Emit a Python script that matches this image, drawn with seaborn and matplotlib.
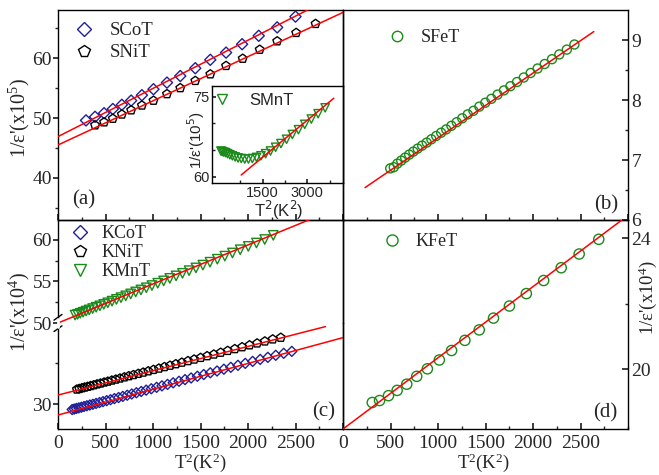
import matplotlib
matplotlib.use("Agg")
import matplotlib.pyplot as plt
import seaborn as sns
from matplotlib.ticker import MultipleLocator, FixedLocator
from matplotlib.lines import Line2D

# ---------------- data ----------------
# panel (a)
scot_x = [295, 390, 485, 577, 672, 770, 883, 1005, 1147, 1287, 1445, 1603, 1769, 1938, 2113, 2307, 2500]
scot_y = [49.6, 50.2, 50.8, 51.5, 52.2, 52.9, 53.8, 54.8, 55.9, 57.0, 58.3, 59.7, 60.9, 62.3, 63.7, 65.1, 66.9]
snit_x = [390, 485, 577, 672, 770, 883, 1005, 1147, 1287, 1445, 1603, 1769, 1944, 2123, 2307, 2507, 2711]
snit_y = [48.8, 49.3, 49.9, 50.6, 51.3, 52.1, 52.9, 54.0, 55.0, 56.2, 57.3, 58.7, 59.9, 61.4, 62.8, 64.2, 65.7]
scot_fit_x = [0, 3000]
scot_fit_y = [46.9, 71.0]
snit_fit_x = [0, 3000]
snit_fit_y = [45.5, 67.6]

# inset of (a)
smnt_x = [100, 144, 196, 256, 324, 400, 484, 576, 676, 784, 900, 1024, 1156, 1296, 1444,
          1600, 1764, 1936, 2116, 2304, 2500, 2704, 2916, 3136, 3364, 3600]
smnt_y = [64.8, 64.7, 64.6, 64.5, 64.3, 64.1, 63.9, 63.7, 63.5, 63.4, 63.3, 63.3, 63.4, 63.6, 63.9,
          64.3, 64.8, 65.5, 66.2, 67.0, 67.9, 68.8, 69.8, 70.8, 71.8, 72.9]
smnt_fit_x = [780, 3890]
smnt_fit_y = [60.3, 74.7]

# panel (b)
sfet_x = [497, 534, 572, 613, 654, 697, 741, 786, 833, 881, 930, 981, 1033, 1086, 1141, 1197, 1255,
          1313, 1373, 1435, 1498, 1562, 1627, 1694, 1762, 1832, 1903, 1975, 2048, 2123, 2200, 2277,
          2356, 2436]
sfet_y = [6.86, 6.88, 6.94, 6.99, 7.04, 7.09, 7.14, 7.19, 7.24, 7.29, 7.345, 7.40, 7.455, 7.51, 7.57,
          7.63, 7.695, 7.76, 7.82, 7.89, 7.955, 8.02, 8.09, 8.16, 8.23, 8.30, 8.375, 8.45, 8.525, 8.60,
          8.68, 8.76, 8.84, 8.925]
sfet_fit_x = [232, 2640]
sfet_fit_y = [6.54, 9.14]

# panel (c)
kmnt_x = [180, 206, 234, 264, 296, 329, 365, 402, 441, 482, 524, 569, 615, 663, 713, 765, 818, 873,
          930, 989, 1050, 1112, 1177, 1243, 1310, 1380, 1452, 1525, 1600, 1677, 1756, 1836, 1918,
          2003, 2089, 2176, 2266]
kmnt_y = [50.95, 51.05, 51.17, 51.30, 51.44, 51.58, 51.74, 51.90, 52.07, 52.25, 52.43, 52.63, 52.84,
          53.05, 53.27, 53.50, 53.74, 53.98, 54.24, 54.51, 54.79, 55.07, 55.37, 55.67, 55.98, 56.30,
          56.63, 56.97, 57.32, 57.68, 58.05, 58.43, 58.82, 59.22, 59.63, 60.05, 60.55]
knit_x = [199, 224, 252, 280, 311, 342, 376, 411, 447, 485, 524, 566, 608, 652, 698, 745, 794, 845,
          896, 950, 1005, 1062, 1120, 1179, 1240, 1303, 1368, 1433, 1501, 1570, 1640, 1712, 1786,
          1861, 1938, 2016, 2096, 2177, 2260, 2345]
knit_y = [31.82, 31.89, 31.98, 32.06, 32.15, 32.24, 32.34, 32.45, 32.55, 32.67, 32.78, 32.91, 33.03,
          33.16, 33.30, 33.44, 33.58, 33.73, 33.88, 34.04, 34.21, 34.37, 34.55, 34.72, 34.90, 35.09,
          35.28, 35.47, 35.67, 35.88, 36.08, 36.30, 36.52, 36.74, 36.97, 37.20, 37.43, 37.67, 37.92,
          38.12]
kcot_x = [149, 171, 194, 219, 246, 274, 304, 335, 367, 401, 437, 474, 513, 553, 594, 638, 682, 729,
          776, 825, 876, 928, 982, 1038, 1094, 1153, 1212, 1274, 1337, 1401, 1467, 1534, 1603, 1674,
          1746, 1819, 1894, 1971, 2049, 2128, 2209, 2292, 2376, 2461]
kcot_y = [29.37, 29.43, 29.50, 29.57, 29.65, 29.74, 29.83, 29.92, 30.01, 30.11, 30.22, 30.33, 30.45,
          30.57, 30.70, 30.83, 30.97, 31.11, 31.26, 31.41, 31.57, 31.73, 31.90, 32.07, 32.25, 32.43,
          32.62, 32.81, 33.01, 33.21, 33.42, 33.63, 33.84, 34.06, 34.28, 34.51, 34.75, 34.99, 35.23,
          35.47, 35.72, 35.97, 36.21, 36.45]
kmnt_fit_x = [0, 3000]
kmnt_fit_y = [50.0, 64.1]
knit_fit_x = [0, 2815]
knit_fit_y = [31.13, 39.46]
kcot_fit_x = [0, 3000]
kcot_fit_y = [28.7, 38.12]

# panel (d)
kfet_x = [308, 385, 479, 570, 671, 776, 888, 1014, 1143, 1283, 1434, 1584, 1752, 1930, 2112, 2297, 2486, 2692]
kfet_y = [18.98, 19.04, 19.19, 19.35, 19.54, 19.78, 20.01, 20.28, 20.57, 20.88, 21.20, 21.56, 21.93,
          22.31, 22.71, 23.10, 23.52, 23.97]
kfet_fit_x = [0, 3000]
kfet_fit_y = [18.17, 24.70]

x_ticks = [0, 500, 1000, 1500, 2000, 2500]

# ---------------- style ----------------
sns.set_theme(style="ticks")
plt.rcParams["font.family"] = ["Liberation Serif", "DejaVu Serif"]
plt.rcParams["mathtext.fontset"] = "custom"
plt.rcParams["mathtext.rm"] = "Liberation Serif"
plt.rcParams["mathtext.it"] = "Liberation Serif:italic"
plt.rcParams["mathtext.sf"] = "Liberation Sans"

BLUE = "#1f1f99"
BLACK = "#000000"
GREEN = "#1a8a1a"
RED = "#ff0000"
SANS = ["Liberation Sans", "DejaVu Sans"]

W, H = 659, 475
fig = plt.figure(figsize=(W / 100, H / 100), dpi=100)


def add_ax(x0, y0, x1, y1):
    return fig.add_axes([x0 / W, 1 - y1 / H, (x1 - x0) / W, (y1 - y0) / H])


def style(ax):
    ax.set_facecolor("none")
    ax.grid(False)
    for s in ax.spines.values():
        s.set_visible(True)
        s.set_color("black")
        s.set_linewidth(1.0)


def pts(ax, x, y, marker, color, s):
    sns.scatterplot(x=x, y=y, ax=ax, marker=marker, s=s, color=color,
                    facecolor="none", edgecolor=color, linewidth=1.0,
                    legend=False, zorder=3)


def fit(ax, x, y):
    sns.lineplot(x=x, y=y, ax=ax, color=RED, linewidth=1.1, zorder=4, legend=False)


def handle(marker, color, ms):
    return Line2D([], [], ls="none", marker=marker, ms=ms, mfc="none", mec=color, mew=1.0)


TS = 14  # tick label size

# ---------------- panel (a) ----------------
axA = add_ax(58, 10, 343, 220)
style(axA)
pts(axA, scot_x, scot_y, "D", BLUE, 32)
pts(axA, snit_x, snit_y, "p", BLACK, 42)
fit(axA, scot_fit_x, scot_fit_y)
fit(axA, snit_fit_x, snit_fit_y)
axA.set_xlim(0, 3000)
axA.set_ylim(33, 68)
axA.xaxis.set_major_locator(MultipleLocator(500))
axA.xaxis.set_minor_locator(MultipleLocator(250))
axA.yaxis.set_major_locator(FixedLocator([40, 50, 60]))
axA.yaxis.set_minor_locator(FixedLocator([35, 45, 55, 65]))
axA.tick_params(axis="x", which="both", bottom=True, direction="in", labelbottom=False)
axA.tick_params(axis="x", which="major", length=4)
axA.tick_params(axis="x", which="minor", length=2.5)
axA.tick_params(axis="y", which="both", left=True, direction="out", labelsize=TS, pad=1)
axA.tick_params(axis="y", which="major", length=3.5)
axA.tick_params(axis="y", which="minor", length=2.5)
axA.set_xlabel("")
axA.set_ylabel("")
axA.legend(handles=[handle("D", BLUE, 7.5), handle("p", BLACK, 8.5)], labels=["SCoT", "SNiT"],
           loc="upper left", bbox_to_anchor=(0.04, 0.96), frameon=False, fontsize=13.5,
           handlelength=1.2, handletextpad=0.75, labelspacing=0.25, borderpad=0.2, borderaxespad=0)
axA.text(0.05, 0.095, "(a)", transform=axA.transAxes, fontsize=15, ha="left", va="center")

# inset
axI = add_ax(212, 86, 343, 183)
style(axI)
axI.set_facecolor("white")
pts(axI, smnt_x, smnt_y, "v", GREEN, 36)
fit(axI, smnt_fit_x, smnt_fit_y)
axI.set_xlim(-200, 4200)
axI.set_ylim(58.8, 77)
axI.xaxis.set_major_locator(FixedLocator([1500, 3000]))
axI.xaxis.set_minor_locator(FixedLocator([750, 2250, 3750]))
axI.yaxis.set_major_locator(FixedLocator([60, 75]))
axI.yaxis.set_minor_locator(FixedLocator([65, 70]))
axI.tick_params(axis="both", which="both", direction="in", bottom=True, left=True, labelsize=10.5, pad=2)
axI.tick_params(axis="both", which="major", length=3)
axI.tick_params(axis="both", which="minor", length=2)
for lab in axI.get_xticklabels() + axI.get_yticklabels():
    lab.set_family(SANS)
axI.set_xlabel("")
axI.set_ylabel("")
axI.legend(handles=[handle("v", GREEN, 7)], labels=["SMnT"], loc="upper left",
           bbox_to_anchor=(0.015, 0.93), frameon=False, prop={"family": SANS, "size": 12},
           handlelength=1.0, handletextpad=1.1, borderpad=0, borderaxespad=0)
fig.text(196 / W, 1 - 140 / H, "1/ε'(10$^5$)", rotation=90, ha="center", va="center",
         fontsize=11, family=SANS, math_fontfamily="dejavusans")
fig.text(279 / W, 1 - 210 / H, "T$^2$(K$^2$)", ha="center", va="center", fontsize=12, family=SANS,
         math_fontfamily="dejavusans")

# ---------------- panel (b) ----------------
axB = add_ax(343, 10, 628, 220)
style(axB)
pts(axB, sfet_x, sfet_y, "o", GREEN, 42)
fit(axB, sfet_fit_x, sfet_fit_y)
axB.set_xlim(0, 3000)
axB.set_ylim(6, 9.5)
axB.xaxis.set_major_locator(MultipleLocator(500))
axB.xaxis.set_minor_locator(MultipleLocator(250))
axB.yaxis.tick_right()
axB.yaxis.set_major_locator(FixedLocator([6, 7, 8, 9]))
axB.yaxis.set_minor_locator(FixedLocator([6.5, 7.5, 8.5]))
axB.tick_params(axis="x", which="both", bottom=True, direction="in", labelbottom=False)
axB.tick_params(axis="x", which="major", length=4)
axB.tick_params(axis="x", which="minor", length=2.5)
axB.tick_params(axis="y", which="both", right=True, left=False, direction="in", labelsize=TS, pad=2.5)
axB.tick_params(axis="y", which="major", length=4)
axB.tick_params(axis="y", which="minor", length=2.5)
axB.set_xlabel("")
axB.set_ylabel("")
axB.legend(handles=[handle("o", GREEN, 7.5)], labels=["SFeT"], loc="upper left",
           bbox_to_anchor=(0.145, 0.925), frameon=False, fontsize=13,
           handlelength=1.0, handletextpad=0.8, borderpad=0.2, borderaxespad=0)
axB.text(0.965, 0.071, "(b)", transform=axB.transAxes, fontsize=15, ha="right", va="center")

# ---------------- panel (c) (broken axis) ----------------
axCt = add_ax(58, 220, 343, 323)
axCb = add_ax(58, 323, 343, 429)
for ax in (axCt, axCb):
    style(ax)
axCt.spines["bottom"].set_visible(False)
axCb.spines["top"].set_visible(False)

pts(axCt, kmnt_x, kmnt_y, "v", GREEN, 46)
fit(axCt, kmnt_fit_x, kmnt_fit_y)
pts(axCb, knit_x, knit_y, "p", BLACK, 42)
pts(axCb, kcot_x, kcot_y, "D", BLUE, 26)
fit(axCb, knit_fit_x, knit_fit_y)
fit(axCb, kcot_fit_x, kcot_fit_y)

for ax in (axCt, axCb):
    ax.set_xlim(0, 3000)
    ax.xaxis.set_major_locator(FixedLocator(x_ticks))
    ax.xaxis.set_minor_locator(MultipleLocator(250))
    ax.set_xlabel("")
    ax.set_ylabel("")
axCt.set_ylim(50, 62.4)
axCb.set_ylim(27, 39.9)
axCt.yaxis.set_major_locator(FixedLocator([50, 55, 60]))
axCt.yaxis.set_minor_locator(FixedLocator([52.5, 57.5]))
axCb.yaxis.set_major_locator(FixedLocator([30]))
axCb.yaxis.set_minor_locator(FixedLocator([35]))
axCt.tick_params(axis="x", which="both", bottom=False, labelbottom=False)
for ax in (axCt, axCb):
    ax.tick_params(axis="y", which="both", left=True, direction="out", labelsize=TS, pad=1)
    ax.tick_params(axis="y", which="major", length=3.5)
    ax.tick_params(axis="y", which="minor", length=2.5)
axCb.tick_params(axis="x", which="both", bottom=True, direction="in", labelsize=TS, pad=4)
axCb.tick_params(axis="x", which="major", length=4)
axCb.tick_params(axis="x", which="minor", length=2.5)
# break marks on the left spine
for dy in (-0.012, 0.012):
    fig.add_artist(Line2D([(58 - 4) / W, (58 + 4) / W],
                          [1 - 323 / H + dy - 0.006, 1 - 323 / H + dy + 0.006],
                          color="black", lw=1.0))
fig.add_artist(Line2D([58 / W, 58 / W], [1 - 323 / H - 0.008, 1 - 323 / H + 0.008],
                      color="white", lw=2.0))
axCt.legend(handles=[handle("D", BLUE, 7), handle("p", BLACK, 8.5), handle("v", GREEN, 8.5)],
            labels=["KCoT", "KNiT", "KMnT"], loc="upper left", bbox_to_anchor=(0.034, 0.985),
            frameon=False, fontsize=13, handlelength=1.0, handletextpad=0.65,
            labelspacing=0.12, borderpad=0.2, borderaxespad=0)
axCb.text(0.972, 0.16, "(c)", transform=axCb.transAxes, fontsize=15, ha="right", va="center")
fig.text(19 / W, 1 - 312 / H, "1/ε'(x10$^4$)", rotation=90, ha="center", va="center", fontsize=14.5)
fig.text(200 / W, 1 - 463 / H, "T$^2$(K$^2$)", ha="center", va="center", fontsize=13.5)
fig.text(19 / W, 1 - 118 / H, "1/ε'(x10$^5$)", rotation=90, ha="center", va="center", fontsize=14.5)

# ---------------- panel (d) ----------------
axD = add_ax(343, 220, 628, 429)
style(axD)
pts(axD, kfet_x, kfet_y, "o", GREEN, 54)
fit(axD, kfet_fit_x, kfet_fit_y)
axD.set_xlim(0, 3000)
axD.set_ylim(18.17, 24.56)
axD.xaxis.set_major_locator(FixedLocator(x_ticks))
axD.xaxis.set_minor_locator(MultipleLocator(250))
axD.yaxis.tick_right()
axD.yaxis.set_major_locator(FixedLocator([20, 24]))
axD.yaxis.set_minor_locator(FixedLocator([22]))
axD.tick_params(axis="x", which="both", bottom=True, direction="in", labelsize=TS, pad=4)
axD.tick_params(axis="x", which="major", length=4)
axD.tick_params(axis="x", which="minor", length=2.5)
axD.tick_params(axis="y", which="both", right=True, left=False, direction="in", labelsize=TS, pad=2.5)
axD.tick_params(axis="y", which="major", length=4)
axD.tick_params(axis="y", which="minor", length=2.5)
axD.set_xlabel("")
axD.set_ylabel("")
axD.legend(handles=[handle("o", GREEN, 8)], labels=["KFeT"], loc="upper left",
           bbox_to_anchor=(0.127, 0.955), frameon=False, fontsize=13,
           handlelength=1.0, handletextpad=0.8, borderpad=0.2, borderaxespad=0)
axD.text(0.961, 0.077, "(d)", transform=axD.transAxes, fontsize=15, ha="right", va="center")
fig.text(648 / W, 1 - 298 / H, "1/ε'(x10$^4$)", rotation=90, ha="center", va="center", fontsize=13.5)
fig.text(483 / W, 1 - 463 / H, "T$^2$(K$^2$)", ha="center", va="center", fontsize=13.5)

fig.savefig("out.png", dpi=100)
